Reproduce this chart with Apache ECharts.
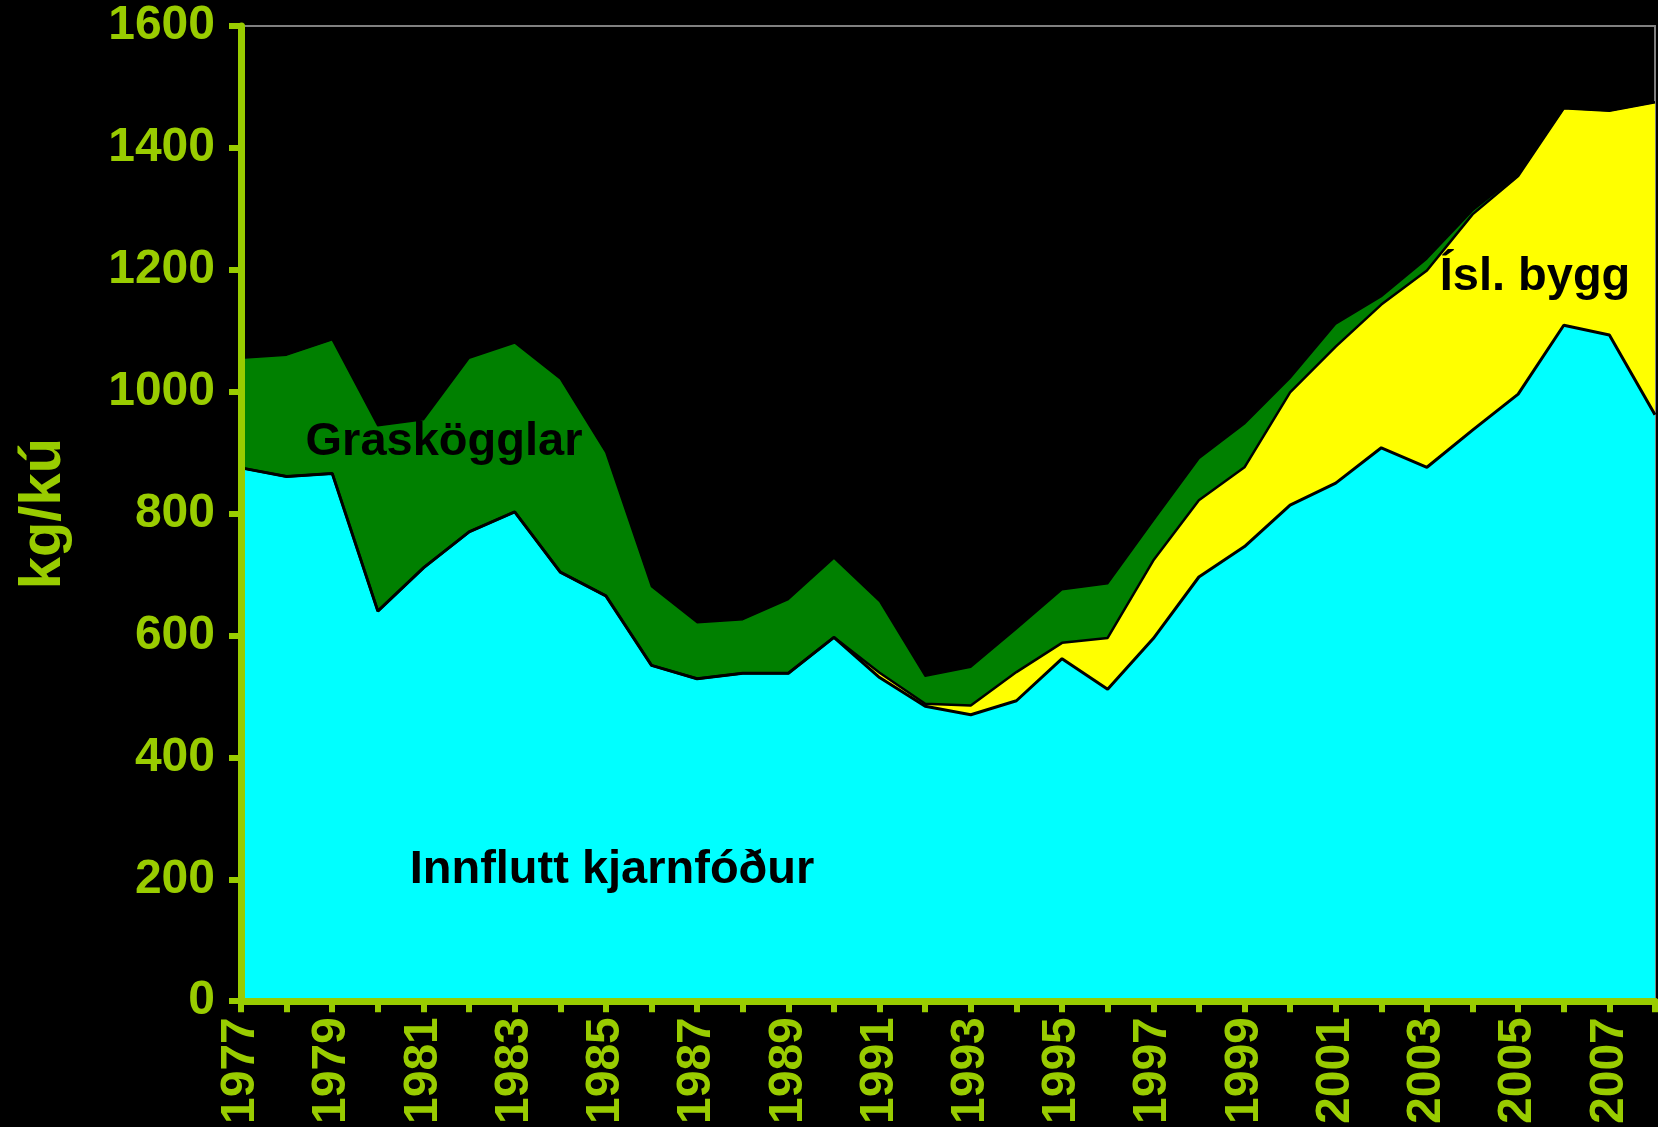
<!DOCTYPE html>
<html>
<head>
<meta charset="utf-8">
<script src="https://cdn.jsdelivr.net/npm/echarts@6/dist/echarts.min.js"></script>
<style>
  html, body { margin: 0; padding: 0; background: #000; }
  #chart { width: 1658px; height: 1127px; }
</style>
</head>
<body>
<div id="chart"></div>
<script>
// ár
var years = ['1977','1978','1979','1980','1981','1982','1983','1984','1985','1986',
             '1987','1988','1989','1990','1991','1992','1993','1994','1995','1996',
             '1997','1998','1999','2000','2001','2002','2003','2004','2005','2006',
             '2007','2008'];

// kg/kú, staflað: innflutt neðst, bygg í miðju, graskögglar efst
var innflutt = [875, 861, 866, 640, 711, 770, 803, 704, 665, 551,
                529, 538, 538, 597, 531, 484, 470, 493, 562, 512,
                595, 696, 746, 814, 850, 908, 876, 937, 996, 1109,
                1093, 962];
var bygg = [0, 0, 0, 0, 0, 0, 0, 0, 0, 0,
            0, 0, 0, 0, 8, 4, 15, 47, 26, 84,
            128, 126, 130, 185, 224, 235, 323, 354, 358, 356,
            368, 513];
var gras = [180, 199, 219, 304, 243, 285, 277, 317, 235, 129,
            92, 88, 121, 130, 117, 45, 63, 71, 87, 89,
            65, 68, 71, 23, 37, 13, 19, 6, 2, 0,
            0, 0];

var yTicks = { min: 0, max: 1600, interval: 200 };

var axisGreen = '#99cc00';
var font = '"Liberation Sans", Arial, sans-serif';

var myChart = echarts.init(document.getElementById('chart'));

function area(name, data, fill, lineW) {
    return {
        name: name,
        type: 'line',
        stack: 'total',
        data: data,
        symbol: 'none',
        showSymbol: false,
        lineStyle: { color: '#000', width: lineW },
        areaStyle: { color: fill, opacity: 1 },
        emphasis: { disabled: true }
    };
}

var option = {
    backgroundColor: '#000',
    animation: false,
    grid: {
        left: 241, right: 3, top: 26, bottom: 125,
        show: true, borderColor: '#808080', borderWidth: 2,
        backgroundColor: 'transparent'
    },
    xAxis: {
        type: 'category',
        data: years,
        boundaryGap: false,
        z: 10,
        axisLine: { lineStyle: { color: axisGreen, width: 7 } },
        axisTick: { show: true, interval: 0, length: 11, lineStyle: { color: axisGreen, width: 6 } },
        axisLabel: {
            interval: 1, rotate: 90, margin: 16,
            color: axisGreen, fontSize: 48, fontWeight: 'bold', fontFamily: font
        },
        splitLine: { show: false }
    },
    yAxis: {
        type: 'value',
        min: yTicks.min, max: yTicks.max, interval: yTicks.interval,
        z: 10,
        name: 'kg/kú',
        nameLocation: 'middle',
        nameGap: 168,
        nameRotate: 90,
        nameTextStyle: { color: axisGreen, fontSize: 58, fontWeight: 'bold', fontFamily: font },
        axisLine: { show: true, lineStyle: { color: axisGreen, width: 7 } },
        axisTick: { show: true, length: 12, lineStyle: { color: axisGreen, width: 6 } },
        axisLabel: {
            margin: 26, color: axisGreen, fontSize: 48, fontWeight: 'bold', fontFamily: font,
            formatter: function (v) { return String(v); }
        },
        splitLine: { show: false }
    },
    series: [
        area('Innflutt kjarnfóður', innflutt, '#00ffff', 3),
        area('Ísl. bygg', bygg, '#ffff00', 2.5),
        area('Graskögglar', gras, '#008000', 1.5)
    ],
    graphic: [
        { type: 'text', x: 444, y: 442, z: 100,
          style: { text: 'Graskögglar', fill: '#000', font: 'bold 47px ' + font, align: 'center', verticalAlign: 'middle' } },
        { type: 'text', x: 612, y: 870, z: 100,
          style: { text: 'Innflutt kjarnfóður', fill: '#000', font: 'bold 47px ' + font, align: 'center', verticalAlign: 'middle' } },
        { type: 'text', x: 1535, y: 277, z: 100,
          style: { text: 'Ísl. bygg', fill: '#000', font: 'bold 47px ' + font, align: 'center', verticalAlign: 'middle' } }
    ]
};

myChart.setOption(option);
</script>
</body>
</html>
